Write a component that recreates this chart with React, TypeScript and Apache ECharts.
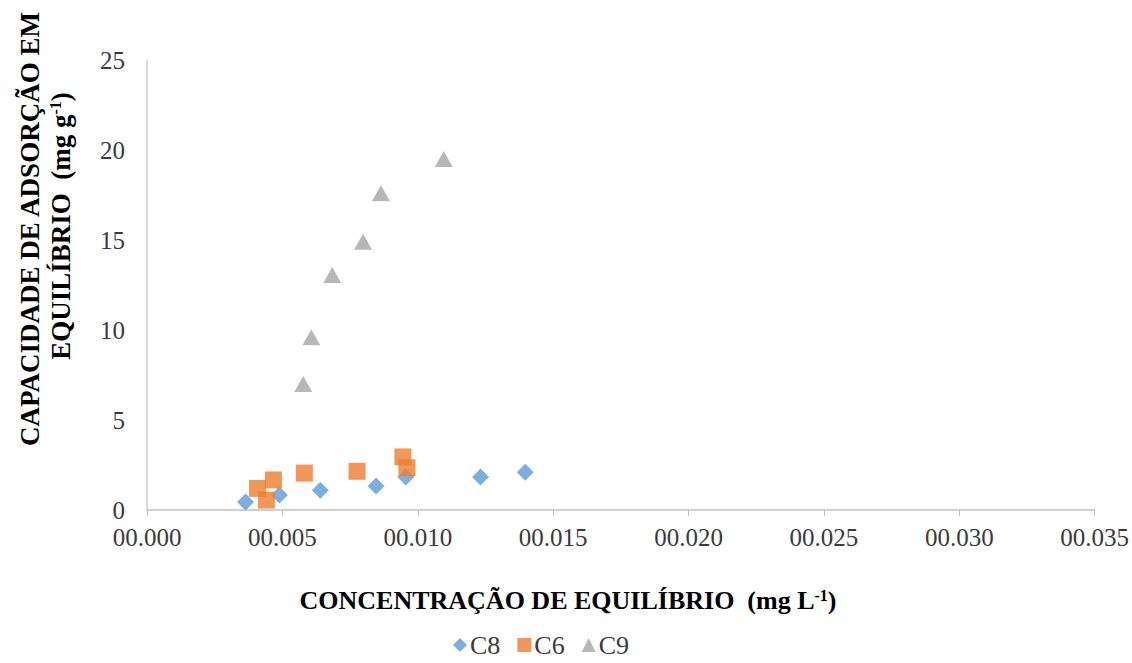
import React, { useEffect, useRef } from "react";
import * as echarts from "echarts";

const c8X = [0.00364, 0.00489, 0.0064, 0.00846, 0.00956, 0.01232, 0.01397];
const c8Y = [0.44, 0.83, 1.1, 1.33, 1.83, 1.83, 2.1];
const c6X = [0.00408, 0.00441, 0.00467, 0.00581, 0.00776, 0.00945, 0.0096];
const c6Y = [1.2, 0.55, 1.67, 2.05, 2.15, 2.95, 2.35];
const c9X = [0.00577, 0.00607, 0.00684, 0.00798, 0.00864, 0.01096];
const c9Y = [7.0, 9.6, 13.05, 14.9, 17.6, 19.5];
const seriesNames = ["C8", "C6", "C9"];

const FONT = "'Liberation Serif', 'Times New Roman', serif";

const pairs = (xs: number[], ys: number[]) => xs.map((x, i) => [x, ys[i]]);

export default function App() {
  const ref = useRef<HTMLDivElement>(null);
  useEffect(() => {
    if (!ref.current) return;
    const chart = echarts.init(ref.current, undefined, { renderer: "svg" });
    const mkRich = (fs: number) => ({
      b: { fontFamily: FONT, fontWeight: "bold", fontSize: fs, color: "#000" },
      s: { fontFamily: FONT, fontWeight: "bold", fontSize: Math.round(fs * 0.6), color: "#000", verticalAlign: "top", padding: [0, 0, 10, 0] },
    });
    const titleStyle = (fs: number) => ({ fontFamily: FONT, fontWeight: "bold", fontSize: fs, fill: "#000" });
    chart.setOption({
      animation: false,
      textStyle: { fontFamily: FONT },
      grid: { left: 147, right: 33, top: 60, bottom: 153 },
      xAxis: {
        type: "value",
        min: 0,
        max: 0.035,
        interval: 0.005,
        axisLine: { show: true, lineStyle: { color: "#BFBFBF", width: 1.5 } },
        axisTick: { show: true, length: 6, lineStyle: { color: "#BFBFBF" } },
        splitLine: { show: false },
        axisLabel: {
          fontFamily: FONT,
          fontSize: 25,
          color: "#3A3A3A",
          margin: 15,
          formatter: (v: number) => "00." + v.toFixed(3).split(".")[1],
        },
      },
      yAxis: {
        type: "value",
        min: 0,
        max: 25,
        interval: 5,
        axisLine: { show: true, lineStyle: { color: "#D0D0D0", width: 1.5 } },
        axisTick: { show: false },
        splitLine: { show: false },
        axisLabel: { fontFamily: FONT, fontSize: 25, color: "#3A3A3A", margin: 22 },
      },
      legend: {
        top: 632,
        left: 453,
        padding: 0,
        itemWidth: 14,
        itemHeight: 14,
        itemGap: 17,
        textStyle: { fontFamily: FONT, fontSize: 26, lineHeight: 26, color: "#3A3A3A", padding: [0, 0, 0, -2] },
        data: [
          { name: seriesNames[0], icon: "diamond" },
          { name: seriesNames[1], icon: "rect" },
          { name: seriesNames[2], icon: "triangle" },
        ],
      },
      graphic: [
        {
          type: "text",
          x: 568,
          y: 600,
          style: {
            text: "{b|CONCENTRAÇÃO DE EQUILÍBRIO  (mg L}{s|-1}{b|)}",
            rich: mkRich(26),
            align: "center",
            verticalAlign: "middle",
            ...titleStyle(26),
          },
        },
        {
          type: "text",
          x: 30,
          y: 229,
          rotation: Math.PI / 2,
          style: {
            text: "{b|CAPACIDADE DE ADSORÇÃO EM}",
            rich: mkRich(27),
            align: "center",
            verticalAlign: "middle",
            ...titleStyle(27),
          },
        },
        {
          type: "text",
          x: 61,
          y: 226,
          rotation: Math.PI / 2,
          style: {
            text: "{b|EQUILÍBRIO  (mg g}{s|-1}{b|)}",
            rich: mkRich(27),
            align: "center",
            verticalAlign: "middle",
            ...titleStyle(27),
          },
        },
      ],
      series: [
        {
          name: seriesNames[0],
          type: "scatter",
          symbol: "diamond",
          symbolSize: 17,
          itemStyle: { color: "#5B9BD5" },
          data: pairs(c8X, c8Y),
        },
        {
          name: seriesNames[1],
          type: "scatter",
          symbol: "rect",
          symbolSize: 17,
          itemStyle: { color: "#ED7D31" },
          data: pairs(c6X, c6Y),
        },
        {
          name: seriesNames[2],
          type: "scatter",
          symbol: "triangle",
          symbolSize: [18, 16],
          itemStyle: { color: "#A5A5A5" },
          data: pairs(c9X, c9Y),
        },
      ],
    });
    return () => chart.dispose();
  }, []);
  return <div ref={ref} style={{ width: 1132, height: 663, position: "absolute", left: 0, top: 0 }} />;
}
